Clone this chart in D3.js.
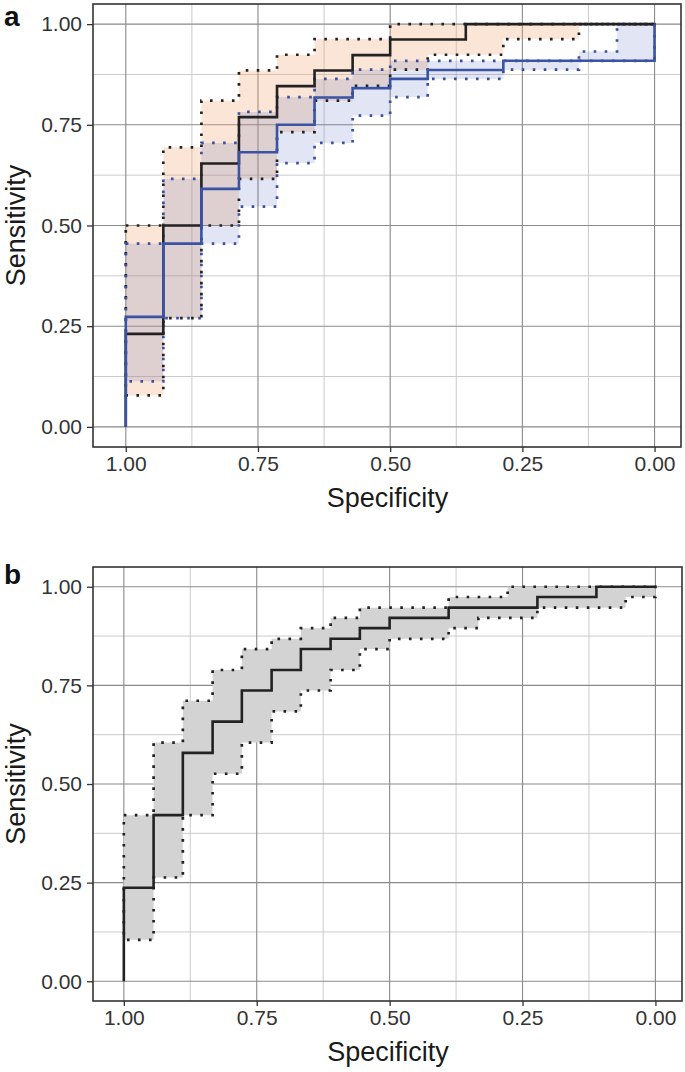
<!DOCTYPE html>
<html><head><meta charset="utf-8">
<script src="https://cdn.jsdelivr.net/npm/d3@7"></script>
<style>body{margin:0;background:#fff}svg{display:block}text{font-family:"Liberation Sans",Arial,sans-serif}</style>
</head><body><svg id="c" width="685" height="1072"></svg>
<script>
// ---------- DATA ----------
const tickValues = [1.00, 0.75, 0.50, 0.25, 0.00];
const tickLabels = ["1.00", "0.75", "0.50", "0.25", "0.00"];
const yTickValues = [0.00, 0.25, 0.50, 0.75, 1.00];
const yTickLabels = ["0.00", "0.25", "0.50", "0.75", "1.00"];
const minorValues = [0.125, 0.375, 0.625, 0.875];

// Panel a, curve 1 (black)
const a1Spec = [1, 1, 0.929, 0.857, 0.786, 0.714, 0.643, 0.571, 0.500, 0.357, 0];
const a1Sens = [0, 0.231, 0.500, 0.654, 0.769, 0.846, 0.885, 0.923, 0.962, 1.000, 1.000];
// Panel a, curve 2 (blue)
const a2Spec = [1, 1, 0.929, 0.857, 0.786, 0.714, 0.643, 0.571, 0.500, 0.429, 0.286, 0, 0];
const a2Sens = [0, 0.273, 0.455, 0.591, 0.682, 0.750, 0.818, 0.841, 0.864, 0.886, 0.909, 0.909, 1.000];
// Panel a, confidence bands (step grid on specificity)
const aBandSpec = [1, 0.929, 0.857, 0.786, 0.714, 0.643, 0.571, 0.500, 0.429, 0.357, 0.286, 0.214, 0.143, 0.071, 0];
const a1Lower = [0.078, 0.270, 0.500, 0.616, 0.732, 0.810, 0.847, 0.887, 0.924, 0.924, 0.963, 0.963, 1.000, 1.000, 1.000];
const a1Upper = [0.500, 0.694, 0.810, 0.885, 0.924, 0.963, 0.963, 1.000, 1.000, 1.000, 1.000, 1.000, 1.000, 1.000, 1.000];
const a2Lower = [0.113, 0.270, 0.455, 0.547, 0.655, 0.705, 0.773, 0.819, 0.864, 0.864, 0.887, 0.887, 0.909, 0.909, 0.909];
const a2Upper = [0.455, 0.616, 0.705, 0.782, 0.819, 0.864, 0.887, 0.909, 0.909, 0.909, 0.909, 0.909, 0.932, 1.000, 1.000];

// Panel b
const bSpec = [1, 1, 0.944, 0.889, 0.833, 0.778, 0.722, 0.667, 0.611, 0.556, 0.500, 0.389, 0.222, 0.111, 0];
const bSens = [0, 0.237, 0.421, 0.579, 0.658, 0.737, 0.789, 0.842, 0.868, 0.895, 0.921, 0.947, 0.974, 1.000, 1.000];
const bBandSpec = [1, 0.944, 0.889, 0.833, 0.778, 0.722, 0.667, 0.611, 0.556, 0.500, 0.444, 0.389, 0.333, 0.278, 0.222, 0.167, 0.111, 0.056, 0];
const bLower = [0.105, 0.263, 0.421, 0.526, 0.605, 0.684, 0.737, 0.789, 0.842, 0.868, 0.868, 0.895, 0.921, 0.921, 0.947, 0.947, 0.947, 0.974, 0.974];
const bUpper = [0.421, 0.605, 0.711, 0.789, 0.842, 0.868, 0.895, 0.921, 0.947, 0.947, 0.947, 0.974, 0.974, 1.000, 1.000, 1.000, 1.000, 1.000, 1.000];

// ---------- DRAW ----------
const svg = d3.select("#c");
const zip = (xs, ys) => xs.map((x, i) => [x, ys[i]]);
const band = (xs, lo, hi) => xs.map((x, i) => ({x, lo: lo[i], hi: hi[i]}));

function panel(cfg) {
  const x = d3.scaleLinear().domain(cfg.xDomain).range([cfg.left, cfg.right]);
  const y = d3.scaleLinear().domain([-0.05, 1.05]).range([cfg.bottom, cfg.top]);
  const g = svg.append("g");

  // grid
  g.selectAll(".vmin").data(minorValues).join("line")
    .attr("x1", d => x(d)).attr("x2", d => x(d)).attr("y1", cfg.top).attr("y2", cfg.bottom)
    .attr("stroke", "#cccccc").attr("stroke-width", 1);
  g.selectAll(".hmin").data(minorValues).join("line")
    .attr("y1", d => y(d)).attr("y2", d => y(d)).attr("x1", cfg.left).attr("x2", cfg.right)
    .attr("stroke", "#cccccc").attr("stroke-width", 1);
  g.selectAll(".vmaj").data(tickValues).join("line")
    .attr("x1", d => x(d)).attr("x2", d => x(d)).attr("y1", cfg.top).attr("y2", cfg.bottom)
    .attr("stroke", "#8a8a8a").attr("stroke-width", 1.1);
  g.selectAll(".hmaj").data(yTickValues).join("line")
    .attr("y1", d => y(d)).attr("y2", d => y(d)).attr("x1", cfg.left).attr("x2", cfg.right)
    .attr("stroke", "#8a8a8a").attr("stroke-width", 1.1);

  const area = d3.area().x(d => x(d.x)).y0(d => y(d.lo)).y1(d => y(d.hi)).curve(d3.curveStepAfter);
  const line = d3.line().x(d => x(d[0])).y(d => y(d[1])).curve(d3.curveStepAfter);

  cfg.bands.forEach(b => {
    g.append("path").datum(b.data).attr("d", area).attr("fill", b.fill).attr("fill-opacity", b.opacity).attr("stroke", "none");
  });
  cfg.bands.forEach(b => {
    g.append("path").datum(b.data).attr("d", area).attr("fill", "none")
      .attr("stroke", b.stroke).attr("stroke-width", 2.7).attr("stroke-dasharray", "2.6 8.4");
  });
  cfg.curves.forEach(c => {
    g.append("path").datum(c.data).attr("d", line).attr("fill", "none")
      .attr("stroke", c.color).attr("stroke-width", 2.6);
  });

  // border
  g.append("rect").attr("x", cfg.left).attr("y", cfg.top).attr("width", cfg.right - cfg.left).attr("height", cfg.bottom - cfg.top)
    .attr("fill", "none").attr("stroke", "#333").attr("stroke-width", 1.6);

  // axes
  const xAxis = d3.axisBottom(x).tickValues(tickValues).tickFormat((d, i) => tickLabels[i]).tickSize(5).tickPadding(4);
  const gx = g.append("g").attr("transform", `translate(0,${cfg.bottom})`).call(xAxis);
  gx.select(".domain").remove();
  gx.selectAll("line").attr("stroke", "#333").attr("stroke-width", 1.3);
  gx.selectAll("text").attr("font-size", 21).attr("fill", "#333").attr("font-family", "Liberation Sans, Arial, sans-serif");

  const yAxis = d3.axisLeft(y).tickValues(yTickValues).tickFormat((d, i) => yTickLabels[i]).tickSize(6).tickPadding(5);
  const gy = g.append("g").attr("transform", `translate(${cfg.left},0)`).call(yAxis);
  gy.select(".domain").remove();
  gy.selectAll("line").attr("stroke", "#333").attr("stroke-width", 1.3);
  gy.selectAll("text").attr("font-size", 21).attr("fill", "#333").attr("font-family", "Liberation Sans, Arial, sans-serif");

  g.append("text").attr("x", (cfg.left + cfg.right) / 2 + 0.5).attr("y", cfg.bottom + 60)
    .attr("text-anchor", "middle").attr("font-size", 27).attr("fill", "#1a1a1a").text("Specificity");
  g.append("text").attr("transform", `translate(25,${(cfg.top + cfg.bottom) / 2}) rotate(-90)`)
    .attr("text-anchor", "middle").attr("font-size", 27).attr("fill", "#1a1a1a").text("Sensitivity");
  g.append("text").attr("x", 4).attr("y", cfg.top + cfg.labelDy).attr("font-size", 28).attr("font-weight", "bold")
    .attr("fill", "#111").text(cfg.label);
}

panel({
  label: "a", labelDy: 22, left: 93, right: 681, top: 4, bottom: 447, xDomain: [1.062, -0.05],
  bands: [
    {data: band(aBandSpec, a1Lower, a1Upper), fill: "#f0a070", opacity: 0.28, stroke: "#222"},
    {data: band(aBandSpec, a2Lower, a2Upper), fill: "#5565b5", opacity: 0.17, stroke: "#3a4fa0"}
  ],
  curves: [
    {data: zip(a1Spec, a1Sens), color: "#222"},
    {data: zip(a2Spec, a2Sens), color: "#3a53a4"}
  ]
});

panel({
  label: "b", labelDy: 17, left: 93, right: 682, top: 567, bottom: 1001, xDomain: [1.058, -0.05],
  bands: [
    {data: band(bBandSpec, bLower, bUpper), fill: "#d3d3d3", opacity: 1, stroke: "#222"}
  ],
  curves: [
    {data: zip(bSpec, bSens), color: "#222"}
  ]
});
</script></body></html>
